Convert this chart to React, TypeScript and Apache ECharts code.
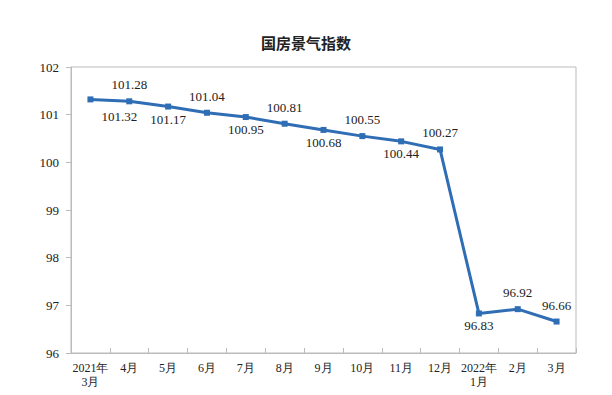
import React, { useEffect, useRef } from "react";
import * as echarts from "echarts";

const categories = ["2021年\n3月", "4月", "5月", "6月", "7月", "8月", "9月", "10月", "11月", "12月", "2022年\n1月", "2月", "3月"];
const values = [101.32, 101.28, 101.17, 101.04, 100.95, 100.81, 100.68, 100.55, 100.44, 100.27, 96.83, 96.92, 96.66];
const yTicks = [96, 97, 98, 99, 100, 101, 102];
const title = "国房景气指数";

const SERIF = "Times New Roman, Liberation Serif, serif";

export default function App() {
  const ref = useRef<HTMLDivElement>(null);
  useEffect(() => {
    const chart = echarts.init(ref.current!, undefined, { renderer: "svg" });
    const data = values.map((v, i) => {
      let position: string = i % 2 === 0 ? "bottom" : "top";
      if (i === values.length - 1) position = "top";
      const offset = i === 0 ? [29, 3] : [0, position === "top" ? -2 : -2];
      return { value: v, label: { position, offset } };
    });
    chart.setOption({
      animation: false,
      title: {
        text: title,
        left: "center",
        top: 30,
        textStyle: { fontSize: 15, fontWeight: "bold", color: "#222", fontFamily: "Noto Sans CJK SC, sans-serif" },
      },
      grid: {
        left: 71, right: 36, top: 67, bottom: 42,
        outerBoundsMode: "none", containLabel: false,
        show: true, borderColor: "#bbb", borderWidth: 1, backgroundColor: "transparent",
      },
      xAxis: {
        type: "category",
        data: categories,
        boundaryGap: true,
        axisLine: { show: true, lineStyle: { color: "#bbb" } },
        axisTick: { show: true, inside: true, length: 5, lineStyle: { color: "#bbb" } },
        axisLabel: { color: "#222", fontSize: 12, fontFamily: SERIF, margin: 8, lineHeight: 14, interval: 0 },
      },
      yAxis: {
        type: "value",
        min: yTicks[0],
        max: yTicks[yTicks.length - 1],
        interval: 1,
        splitLine: { show: false },
        axisLine: { show: true, lineStyle: { color: "#bbb" } },
        axisTick: { show: true, length: 5, lineStyle: { color: "#bbb" } },
        axisLabel: { color: "#222", fontSize: 13, fontFamily: SERIF, margin: 12 },
      },
      series: [
        {
          type: "line",
          data,
          symbol: "rect",
          symbolSize: 6,
          lineStyle: { color: "#2f6db5", width: 3 },
          itemStyle: { color: "#2f6db5" },
          label: { show: true, color: "#222", fontSize: 13, fontFamily: SERIF, distance: 5 },
        },
      ],
    });
    return () => chart.dispose();
  }, []);
  return <div ref={ref} style={{ width: 612, height: 395, margin: -8 }} />;
}
